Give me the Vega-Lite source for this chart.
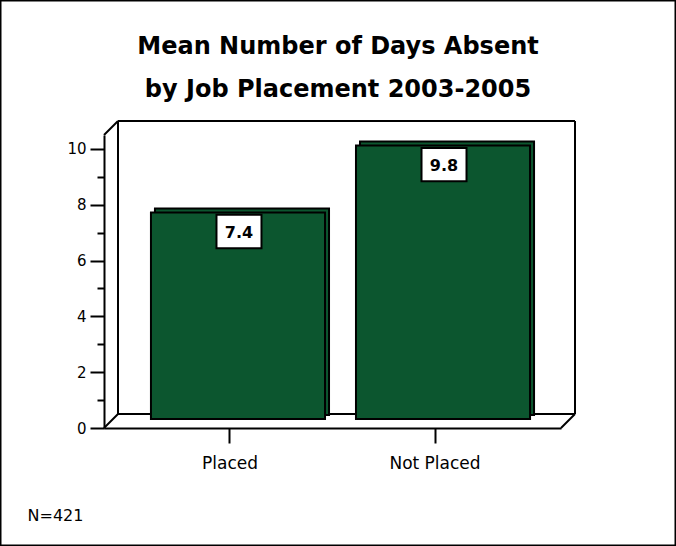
{
  "$schema": "https://vega.github.io/schema/vega-lite/v6.json",
  "width": 676,
  "height": 546,
  "autosize": {"type": "none"},
  "padding": 0,
  "background": "white",
  "config": {"view": {"stroke": "black", "strokeWidth": 3}, "font": "DejaVu Sans"},
  "title": {
    "text": ["Mean Number of Days Absent", "by Job Placement 2003-2005"],
    "font": "DejaVu Sans",
    "fontSize": 24,
    "fontWeight": "bold",
    "lineHeight": 43,
    "anchor": "middle",
    "baseline": "alphabetic",
    "offset": -121,
    "color": "black"
  },
  "datasets": {
    "bars": [
      {"group": "Placed", "value": 7.4},
      {"group": "Not Placed", "value": 9.8}
    ],
    "wall": [
      {"x": 0, "y": 0, "x2": 0, "y2": 10.5},
      {"x": 1, "y": 0, "x2": 1, "y2": 10.5},
      {"x": 0, "y": 10.5, "x2": 1, "y2": 10.5},
      {"x": 0, "y": 0, "x2": 1, "y2": 0}
    ],
    "edges": [
      {"x": 0, "y": 0},
      {"x": 1, "y": 0},
      {"x": 0, "y": 10.5}
    ]
  },
  "resolve": {"scale": {"x": "independent"}, "axis": {"x": "independent", "y": "independent"}},
  "layer": [
    {
      "data": {"name": "wall"},
      "mark": {"type": "rule", "stroke": "black", "strokeWidth": 2, "xOffset": 14, "x2Offset": 14, "yOffset": -14, "y2Offset": -14},
      "encoding": {
        "x": {"field": "x", "type": "quantitative", "scale": {"domain": [0, 1], "range": [104, 561], "nice": false, "zero": false}, "axis": null},
        "x2": {"field": "x2"},
        "y": {"field": "y", "type": "quantitative", "scale": {"domain": [0, 10.5], "range": [428, 135], "nice": false, "zero": false}, "axis": null},
        "y2": {"field": "y2"}
      }
    },
    {
      "data": {"name": "edges"},
      "mark": {"type": "rule", "stroke": "black", "strokeWidth": 2, "x2Offset": 14, "y2Offset": -14},
      "encoding": {
        "x": {"field": "x", "type": "quantitative", "scale": {"domain": [0, 1], "range": [104, 561], "nice": false, "zero": false}, "axis": null},
        "x2": {"field": "x"},
        "y": {"field": "y", "type": "quantitative", "scale": {"domain": [0, 10.5], "range": [428, 135], "nice": false, "zero": false}, "axis": null},
        "y2": {"field": "y"}
      }
    },
    {
      "data": {"name": "bars"},
      "mark": {"type": "bar", "fill": "#0c562f", "stroke": "black", "strokeWidth": 2, "xOffset": 12, "yOffset": -13, "y2Offset": -13},
      "encoding": {
        "x": {"field": "group", "type": "nominal", "sort": null, "scale": {"type": "band", "domain": ["Placed", "Not Placed"], "range": [104, 561], "paddingInner": 0.151, "paddingOuter": 0.19}, "axis": null},
        "y": {"field": "value", "type": "quantitative", "scale": {"domain": [0, 10.5], "range": [428, 135], "nice": false, "zero": false},
          "axis": {"orient": "left", "offset": -104, "values": [1, 3, 5, 7, 9], "domain": false, "labels": false, "tickColor": "black", "tickWidth": 2, "tickSize": 7, "grid": false, "title": null}},
        "y2": {"datum": 0}
      }
    },
    {
      "data": {"name": "bars"},
      "mark": {"type": "bar", "fill": "#0c562f", "stroke": "black", "strokeWidth": 2, "xOffset": 8, "yOffset": -9, "y2Offset": -9},
      "encoding": {
        "x": {"field": "group", "type": "nominal", "sort": null, "scale": {"type": "band", "domain": ["Placed", "Not Placed"], "range": [104, 561], "paddingInner": 0.151, "paddingOuter": 0.19},
          "axis": {"orient": "bottom", "offset": -118, "domainColor": "black", "domainWidth": 2, "tickColor": "black", "tickWidth": 2, "tickSize": 15, "labelFont": "DejaVu Sans", "labelFontSize": 17, "labelColor": "black", "labelPadding": 12, "labelAngle": 0,
            "title": "N=421", "titleFont": "DejaVu Sans", "titleFontSize": 16, "titleFontWeight": "normal", "titleColor": "black", "titleAnchor": "start", "titleAlign": "left", "titleBaseline": "alphabetic", "titleX": 27, "titleY": 92}},
        "y": {"field": "value", "type": "quantitative", "scale": {"domain": [0, 10.5], "range": [428, 135], "nice": false, "zero": false},
          "axis": {"orient": "left", "offset": -104, "values": [0, 2, 4, 6, 8, 10], "domainColor": "black", "domainWidth": 2, "tickColor": "black", "tickWidth": 2, "tickSize": 14, "labelFont": "DejaVu Sans", "labelFontSize": 15, "labelColor": "black", "labelPadding": 4, "grid": false, "title": null}},
        "y2": {"datum": 0}
      }
    },
    {
      "data": {"name": "bars"},
      "mark": {"type": "point", "shape": "M-1,-0.74H1V0.74H-1Z", "size": 2025, "filled": true, "fill": "white", "stroke": "black", "strokeWidth": 2, "opacity": 1, "xOffset": 9, "yOffset": 10},
      "encoding": {
        "x": {"field": "group", "type": "nominal", "sort": null, "scale": {"type": "band", "domain": ["Placed", "Not Placed"], "range": [104, 561], "paddingInner": 0.151, "paddingOuter": 0.19}, "axis": null},
        "y": {"field": "value", "type": "quantitative", "scale": {"domain": [0, 10.5], "range": [428, 135], "nice": false, "zero": false}, "axis": null}
      }
    },
    {
      "data": {"name": "bars"},
      "mark": {"type": "text", "font": "DejaVu Sans", "fontWeight": "bold", "fontSize": 16, "color": "black", "baseline": "middle", "align": "center", "xOffset": 9, "yOffset": 11},
      "encoding": {
        "x": {"field": "group", "type": "nominal", "sort": null, "scale": {"type": "band", "domain": ["Placed", "Not Placed"], "range": [104, 561], "paddingInner": 0.151, "paddingOuter": 0.19}, "axis": null},
        "y": {"field": "value", "type": "quantitative", "scale": {"domain": [0, 10.5], "range": [428, 135], "nice": false, "zero": false}, "axis": null},
        "text": {"field": "value", "type": "quantitative", "format": ".1f"}
      }
    }
  ]
}
